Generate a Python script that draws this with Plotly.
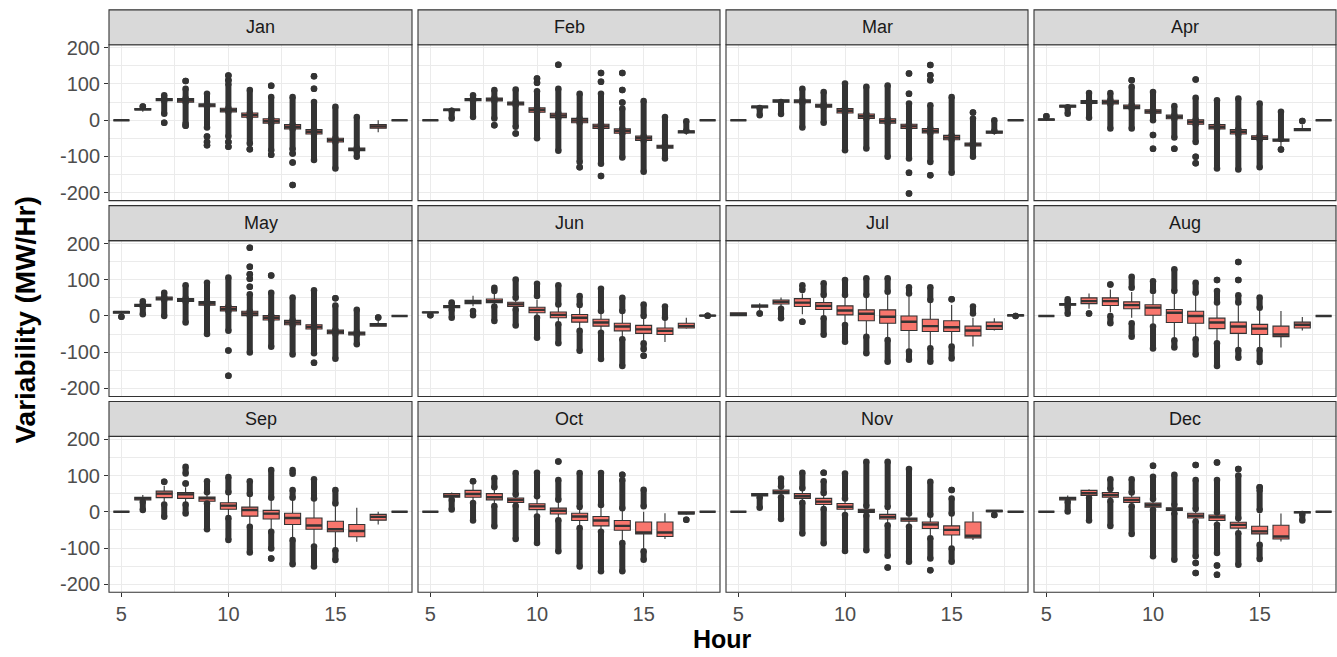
import plotly.graph_objects as go

# ---------------- data ----------------
MONTHS = ["Jan", "Feb", "Mar", "Apr", "May", "Jun", "Jul", "Aug", "Sep", "Oct", "Nov", "Dec"]
HOURS = list(range(5, 19))
X_TICKS = [5, 10, 15]
X_TICK_TEXT = ["5", "10", "15"]
Y_TICKS = [-200, -100, 0, 100, 200]
Y_TICK_TEXT = ["-200", "-100", "0", "100", "200"]

# lower quartile per month (hours 5..18)
Q1 = [
    [0, 28, 54, 50, 37, 23, 8, -8, -24, -38, -60, -84, -22, 0],
    [0, 26, 54, 53, 42, 22, 7, -7, -23, -36, -56, -77, -35, 0],
    [0, 34, 50, 48, 36, 20, 5, -8, -23, -35, -54, -71, -36, 0],
    [0, 36, 46, 45, 32, 19, 4, -11, -24, -38, -53, -58, -29, 0],
    [8, 26, 44, 40, 30, 14, 1, -11, -24, -36, -49, -52, -28, 0],
    [9, 23, 34, 37, 26, 9, -5, -17, -28, -41, -48, -51, -33, 0],
    [1, 24, 33, 26, 18, 3, -13, -20, -40, -43, -43, -55, -37, 0],
    [0, 30, 34, 29, 20, 2, -18, -20, -35, -48, -51, -57, -33, 0],
    [0, 33, 39, 37, 29, 7, -12, -20, -35, -48, -55, -69, -23, 0],
    [0, 40, 40, 33, 26, 6, -6, -24, -39, -51, -61, -68, -6, 0],
    [0, 44, 50, 37, 20, 7, -2, -20, -26, -46, -64, -72, 0, 0],
    [0, 33, 45, 40, 26, 13, 4, -17, -24, -45, -61, -75, -3, 0],
]
# median
MED = [
    [0, 30, 57, 55, 41, 28, 14, -2, -18, -32, -55, -81, -17, 0],
    [0, 29, 57, 57, 46, 28, 13, -1, -17, -30, -50, -73, -32, 0],
    [0, 37, 53, 52, 40, 26, 11, -2, -17, -29, -48, -67, -33, 0],
    [2, 39, 50, 50, 37, 24, 9, -5, -18, -32, -48, -55, -26, 0],
    [11, 29, 48, 44, 35, 20, 7, -5, -18, -30, -44, -48, -24, 0],
    [10, 26, 39, 41, 32, 17, 3, -5, -18, -29, -37, -41, -28, 1],
    [5, 28, 39, 37, 28, 15, 6, -2, -16, -28, -31, -40, -28, 2],
    [0, 32, 41, 41, 30, 23, 9, 0, -18, -29, -35, -51, -24, 0],
    [0, 37, 50, 48, 37, 17, 5, -5, -17, -38, -48, -53, -14, 0],
    [0, 44, 49, 40, 33, 15, 3, -13, -24, -39, -57, -57, -4, 0],
    [0, 48, 55, 43, 28, 14, 3, -14, -21, -35, -50, -66, 2, 0],
    [0, 37, 51, 46, 33, 18, 7, -11, -15, -36, -54, -68, -1, 0],
]
# upper quartile
Q3 = [
    [0, 32, 60, 60, 45, 33, 20, 4, -12, -26, -50, -77, -12, 0],
    [0, 31, 60, 61, 50, 34, 19, 5, -11, -24, -44, -69, -29, 0],
    [0, 39, 56, 56, 44, 32, 17, 4, -11, -23, -42, -63, -30, 0],
    [3, 41, 54, 55, 42, 29, 14, 1, -12, -26, -43, -52, -23, 0],
    [12, 32, 52, 48, 40, 26, 13, 1, -12, -24, -39, -44, -21, 0],
    [11, 29, 43, 47, 38, 24, 11, 4, -9, -20, -26, -33, -20, 2],
    [9, 30, 44, 48, 37, 28, 17, 17, 0, -9, -13, -28, -17, 3],
    [0, 34, 50, 50, 39, 31, 18, 13, -6, -17, -23, -28, -17, 0],
    [0, 40, 57, 53, 41, 25, 13, 4, -4, -17, -26, -35, -7, 0],
    [0, 50, 59, 50, 38, 22, 10, -4, -13, -24, -28, -28, 0, 0],
    [0, 50, 60, 50, 37, 23, 7, -7, -17, -28, -39, -28, 4, 0],
    [0, 40, 59, 53, 40, 24, 11, -4, -9, -29, -40, -37, 0, 0],
]
# lower whisker end
WLO = [
    [0, 23, 48, 42, 28, 10, -5, -20, -35, -50, -70, -90, -33, 0],
    [0, 20, 46, 44, 32, 10, -5, -20, -35, -48, -65, -85, -40, 0],
    [0, 30, 45, 38, 28, 5, -10, -22, -35, -47, -62, -78, -40, 0],
    [-2, 32, 40, 35, 22, 8, -8, -22, -38, -50, -62, -75, -30, 0],
    [5, 18, 36, 30, 18, 0, -15, -25, -38, -50, -58, -58, -28, 0],
    [5, 18, 27, 30, 22, -3, -20, -38, -44, -60, -68, -72, -35, -2],
    [0, 15, 26, 5, 0, -20, -50, -60, -95, -85, -80, -84, -40, 0],
    [0, 28, 20, 10, -5, -25, -62, -60, -70, -90, -90, -87, -40, 0],
    [0, 30, 28, 25, 28, -12, -38, -50, -75, -90, -100, -83, -35, 0],
    [0, 35, 28, 20, 20, -10, -20, -40, -50, -80, -100, -75, -8, 0],
    [0, 42, 42, 28, 12, -5, -8, -32, -35, -65, -95, -78, -2, 0],
    [0, 30, 40, 35, 20, 8, 0, -25, -32, -55, -85, -82, -4, 0],
]
# upper whisker end
WHI = [
    [0, 36, 66, 68, 55, 45, 33, 18, 0, -14, -38, -70, 0, 0],
    [0, 35, 66, 70, 60, 48, 32, 18, 2, -10, -30, -60, -20, 0],
    [0, 40, 58, 65, 55, 45, 30, 18, 2, -10, -30, -55, -20, 0],
    [6, 42, 60, 62, 55, 42, 25, 15, 5, -10, -32, -45, -12, 0],
    [13, 38, 62, 60, 55, 42, 28, 18, 5, -10, -28, -38, -10, 0],
    [12, 33, 56, 62, 48, 45, 30, 28, 12, 12, -2, -8, -5, 3],
    [10, 35, 51, 62, 52, 52, 52, 60, 58, 40, 30, -5, -6, 4],
    [0, 36, 62, 73, 66, 60, 62, 58, 35, 32, 20, 14, -3, 0],
    [0, 46, 72, 68, 50, 50, 45, 35, 35, 32, 20, 11, 0, 0],
    [0, 53, 75, 65, 45, 40, 30, 10, 15, 5, 0, -4, 0, 0],
    [0, 51, 68, 62, 50, 35, 14, 10, -8, -10, -8, 0, 5, 0],
    [0, 45, 62, 60, 50, 33, 17, 6, -4, -20, -5, -5, 0, 0],
]
# outliers: (hour, low, high) -- dense runs of points, single points have low == high
OUTLIERS = [
    [(6, 38, 38), (7, 60, 69), (7, 18, 54), (7, -7, -7), (8, 60, 87), (8, 108, 108), (8, -10, 50), (8, -15, -15),
     (9, 45, 73), (9, -20, 37), (9, -45, -45), (9, -60, -60), (9, -69, -69), (10, 33, 100), (10, 110, 110),
     (10, 123, 123), (10, -45, 23), (10, -60, -60), (10, -73, -73), (11, 20, 83), (11, -64, 8), (11, -80, -80),
     (12, 4, 64), (12, 95, 95), (12, -83, -8), (12, -95, -95), (13, -12, 64), (13, -80, -24), (13, -92, -92),
     (13, -117, -117), (13, -179, -179), (14, -26, 50), (14, 87, 87), (14, 121, 121), (14, -110, -38),
     (15, -50, 37), (15, -133, -60), (16, -77, 9), (16, -101, -84)],
    [(6, 5, 26), (7, 60, 69), (7, 9, 54), (8, 61, 83), (8, 5, 53), (8, -14, -14), (9, 50, 85), (9, -18, 42),
     (9, -37, -37), (10, 34, 80), (10, 103, 103), (10, 115, 115), (10, -50, 22), (11, 19, 87), (11, 153, 153),
     (11, -84, 7), (12, 5, 73), (12, -115, -7), (12, -130, -130), (13, -11, 73), (13, 106, 106), (13, 130, 130),
     (13, -120, -23), (13, -154, -154), (14, -24, 32), (14, 49, 49), (14, 83, 83), (14, 130, 130),
     (14, -103, -36), (15, -44, 53), (15, -142, -56), (16, -69, 9), (16, -106, -77), (17, -29, -3)],
    [(6, 14, 34), (7, 17, 50), (8, 56, 87), (8, -20, 48), (9, 44, 78), (9, -7, 36), (10, 32, 101), (10, -83, 20),
     (11, 17, 92), (11, -78, 5), (12, 4, 96), (12, -101, -8), (13, -11, 46), (13, 73, 73), (13, 129, 129),
     (13, -106, -23), (13, -145, -145), (13, -202, -202), (14, -23, 41), (14, 110, 110), (14, 124, 124),
     (14, 152, 152), (14, -115, -35), (14, -152, -152), (15, -42, 64), (15, -145, -54), (16, -63, 5),
     (16, 21, 21), (16, -101, -71), (17, -30, 0)],
    [(5, 11, 11), (6, 18, 36), (7, 54, 75), (7, 7, 46), (8, 55, 75), (8, -23, 45), (9, 42, 92), (9, 110, 110),
     (9, -23, 32), (10, 29, 78), (10, 0, 19), (10, -41, -41), (10, -79, -79), (11, 14, 39), (11, -48, 4),
     (11, -79, -79), (12, 1, 62), (12, 112, 112), (12, -60, -11), (12, -101, -101), (12, -119, -119),
     (13, -12, 55), (13, -133, -24), (14, -26, 60), (14, -136, -38), (15, -43, 46), (15, -130, -53),
     (16, -52, 23), (16, -81, -81), (17, -2, -2)],
    [(5, -2, -2), (6, 32, 41), (6, 5, 26), (7, 52, 64), (7, 0, 44), (8, 48, 85), (8, -18, 40), (9, 40, 92),
     (9, -50, 30), (10, 26, 106), (10, -41, 14), (10, -95, -95), (10, -165, -165), (11, 13, 60), (11, 81, 81),
     (11, 103, 103), (11, 115, 115), (11, 136, 136), (11, 188, 188), (11, -101, 1), (12, 1, 64),
     (12, 112, 112), (12, -85, -11), (13, -12, 51), (13, -106, -24), (14, -24, 71), (14, -103, -36),
     (14, -129, -129), (15, -39, 29), (15, 49, 49), (15, -118, -49), (16, -44, 17), (16, -78, -52),
     (17, -4, -4)],
    [(5, 2, 2), (6, 33, 37), (6, -5, 18), (7, 2, 14), (8, 69, 78), (8, -14, 26), (9, 50, 101), (9, -26, 18),
     (10, 55, 89), (10, -60, -5), (11, 32, 85), (11, -75, -23), (12, 30, 55), (12, -96, -41), (13, 14, 75),
     (13, -119, -46), (14, 14, 50), (14, -138, -64), (15, 0, 32), (15, -92, -75), (15, -110, -110),
     (16, -5, 26), (18, 1, 1)],
    [(6, 7, 7), (7, -6, 20), (8, 72, 85), (8, -16, -16), (9, 58, 90), (9, -52, -6), (10, 58, 99), (10, -71, -25),
     (11, 58, 104), (11, -103, -57), (12, 67, 104), (12, -126, -66), (13, 62, 79), (13, -121, -98),
     (14, 44, 79), (14, -126, -89), (15, 46, 46), (15, -117, -84), (16, 7, 26), (18, 0, 0)],
    [(6, 38, 46), (6, 6, 26), (7, 7, 7), (8, 87, 87), (8, -20, 0), (9, 78, 108), (9, -57, -20), (10, 69, 96),
     (10, -90, -29), (11, 69, 129), (11, -87, -67), (12, 64, 92), (12, -106, -64), (13, 99, 99), (13, 37, 69),
     (13, -138, -75), (14, 149, 149), (14, 99, 99), (14, 37, 57), (14, -115, -94), (15, 23, 51),
     (15, -127, -94)],
    [(6, 5, 28), (7, 83, 83), (7, -14, 20), (8, 106, 124), (8, 78, 78), (8, -5, 20), (9, 54, 84), (9, -48, 23),
     (10, 54, 96), (10, -78, -17), (11, 49, 84), (11, -112, -41), (12, 39, 115), (12, -101, -55),
     (12, -129, -129), (13, 105, 115), (13, 39, 60), (13, -145, -78), (14, 37, 90), (14, -151, -96),
     (15, 23, 60), (15, -133, -106)],
    [(6, 6, 33), (7, 84, 84), (7, -24, 24), (8, 68, 93), (8, -40, 16), (9, 48, 107), (9, -75, 17), (10, 43, 108),
     (10, -86, -13), (11, 139, 139), (11, 33, 88), (11, -109, -23), (12, 13, 107), (12, -151, -45),
     (13, 19, 107), (13, -164, -55), (14, 102, 102), (14, 10, 88), (14, -164, -86), (15, 15, 61),
     (15, -132, -109), (17, -22, -22)],
    [(6, 11, 40), (7, 70, 92), (7, -20, 40), (8, 65, 108), (8, -60, 25), (9, 108, 108), (9, 52, 84), (9, -87, 8),
     (10, 37, 106), (10, -108, -9), (11, 16, 138), (11, -106, -10), (12, 13, 138), (12, -121, -37),
     (12, -154, -154), (13, -5, 118), (13, -138, -41), (14, -8, 83), (14, -129, -73), (14, -161, -161),
     (15, 60, 60), (15, -5, 37), (15, -138, -101), (17, -9, -9)],
    [(6, 1, 28), (7, -24, 38), (8, 63, 90), (8, -39, 30), (9, 53, 90), (9, -61, 15), (10, 127, 127), (10, 35, 97),
     (10, -123, 5), (11, 19, 102), (11, -132, -4), (12, 129, 129), (12, 8, 88), (12, -123, -27),
     (12, -141, -141), (12, -169, -169), (13, 136, 136), (13, -2, 88), (13, -114, -36), (13, -148, -148),
     (13, -174, -174), (14, 118, 118), (14, -18, 100), (14, -146, -59), (15, 68, 68), (15, 5, 60),
     (15, -130, -91), (17, -24, -6)],
]

# ---------------- layout geometry ----------------
W, H = 1337, 657
# target pixel positions (as seen in the photographed page)
COLS_PX = [(109, 412), (418, 720), (726, 1028), (1034, 1336)]
ROWS_PX = [(44, 200), (240, 396), (436, 592)]
STRIP_H = 35
# vertical calibration measured from the photographed page: seen_y = CAL_A + CAL_B * layout_y
CAL_A, CAL_B = 7.14, 0.9843


def ypx(seen_y):
    """layout pixel (from top) that lands on the wanted seen pixel."""
    return (seen_y - CAL_A) / CAL_B


def yfrac(seen_y):
    return 1 - ypx(seen_y) / H


BOX_W = 0.75
X_RANGE = [4.42, 18.58]
Y_RANGE = [-222, 208]

FONT = "Liberation Sans, Arial, sans-serif"
DARK = "#333333"
GRID = "#EBEBEB"

fig = go.Figure()
layout = dict(
    width=W, height=H, autosize=False,
    margin=dict(l=0, r=0, t=0, b=0),
    paper_bgcolor="white", plot_bgcolor="white",
    showlegend=False, font=dict(family=FONT),
)
shapes = []
annotations = []

for i, month in enumerate(MONTHS):
    r, c = divmod(i, 4)
    n = i + 1
    xa = "x" if n == 1 else f"x{n}"
    ya = "y" if n == 1 else f"y{n}"
    xkey = "xaxis" if n == 1 else f"xaxis{n}"
    ykey = "yaxis" if n == 1 else f"yaxis{n}"
    x0, x1 = COLS_PX[c]
    y0, y1 = ROWS_PX[r]

    bottom = r == 2
    left = c == 0
    layout[xkey] = dict(
        domain=[x0 / W, x1 / W], range=X_RANGE, anchor=ya,
        showgrid=True, gridcolor=GRID, gridwidth=1.1, zeroline=False,
        tickvals=X_TICKS, ticktext=X_TICK_TEXT,
        showticklabels=bottom, ticks="outside" if bottom else "",
        ticklen=4, tickwidth=1.1, tickcolor=DARK,
        tickfont=dict(size=20, color="#4D4D4D", family=FONT),
        minor=dict(tickvals=[7.5, 12.5, 17.5], showgrid=True, gridcolor=GRID, gridwidth=0.6),
        showline=False, fixedrange=True,
    )
    layout[ykey] = dict(
        domain=[yfrac(y1), yfrac(y0)], range=Y_RANGE, anchor=xa,
        showgrid=True, gridcolor=GRID, gridwidth=1.1, zeroline=False,
        tickvals=Y_TICKS, ticktext=Y_TICK_TEXT,
        showticklabels=left, ticks="outside" if left else "",
        ticklen=4, tickwidth=1.1, tickcolor=DARK,
        tickfont=dict(size=20, color="#4D4D4D", family=FONT),
        minor=dict(tickvals=[-150, -50, 50, 150], showgrid=True, gridcolor=GRID, gridwidth=0.6),
        showline=False, fixedrange=True,
    )

    # boxes
    fig.add_trace(go.Box(
        x=HOURS, q1=Q1[i], median=MED[i], q3=Q3[i],
        lowerfence=WLO[i], upperfence=WHI[i],
        xaxis=xa, yaxis=ya, width=BOX_W, whiskerwidth=0,
        fillcolor="#F8766D", line=dict(color=DARK, width=1.1),
        boxpoints=False, hoverinfo="skip", showlegend=False,
    ))

    # outlier runs
    ox, oy = [], []
    for h, lo, hi in OUTLIERS[i]:
        ox += [h, h, None]
        oy += [lo, hi, None]
    fig.add_trace(go.Scatter(
        x=ox, y=oy, xaxis=xa, yaxis=ya, mode="lines+markers",
        line=dict(color=DARK, width=6), marker=dict(color=DARK, size=6.5),
        hoverinfo="skip", showlegend=False, connectgaps=False,
    ))

    # thick median lines
    mx, my = [], []
    for h, m in zip(HOURS, MED[i]):
        mx += [h - BOX_W / 2, h + BOX_W / 2, None]
        my += [m, m, None]
    fig.add_trace(go.Scatter(
        x=mx, y=my, xaxis=xa, yaxis=ya, mode="lines",
        line=dict(color=DARK, width=2.4), hoverinfo="skip", showlegend=False,
    ))

    # panel border
    shapes.append(dict(type="rect", xref="paper", yref="paper",
                       x0=x0 / W, x1=x1 / W, y0=yfrac(y1), y1=yfrac(y0),
                       line=dict(color=DARK, width=1.1), fillcolor="rgba(0,0,0,0)", layer="above"))
    # strip
    shapes.append(dict(type="rect", xref="paper", yref="paper",
                       x0=x0 / W, x1=x1 / W, y0=yfrac(y0), y1=yfrac(y0 - STRIP_H),
                       line=dict(color=DARK, width=1.1), fillcolor="#D9D9D9", layer="above"))
    annotations.append(dict(text=month, xref="paper", yref="paper",
                            x=(x0 + x1) / 2 / W, y=yfrac(y0 - STRIP_H / 2),
                            showarrow=False, xanchor="center", yanchor="middle",
                            font=dict(size=18, color="#1A1A1A", family=FONT)))

annotations.append(dict(text="<b>Hour</b>", xref="paper", yref="paper",
                        x=(109 + 1336) / 2 / W, y=0, showarrow=False,
                        xanchor="center", yanchor="bottom", borderpad=0,
                        font=dict(size=25, color="black", family=FONT)))
annotations.append(dict(text="<b>Variability (MW/Hr)</b>", xref="paper", yref="paper",
                        x=26 / W, y=yfrac(320), showarrow=False, textangle=-90,
                        xanchor="center", yanchor="middle",
                        font=dict(size=28, color="black", family=FONT)))

layout["shapes"] = shapes
layout["annotations"] = annotations
fig.update_layout(**layout)

POST = (
    "document.documentElement.style.margin='0';"
    "document.documentElement.style.overflow='hidden';"
    "document.body.style.margin='0';document.body.style.padding='0';"
    "document.body.style.overflow='hidden';"
    "var gd=document.getElementById('{plot_id}');"
    "gd.style.position='fixed';gd.style.top='0px';gd.style.left='0px';"
)
fig.write_html("out.html", config={"displayModeBar": False}, post_script=POST)
